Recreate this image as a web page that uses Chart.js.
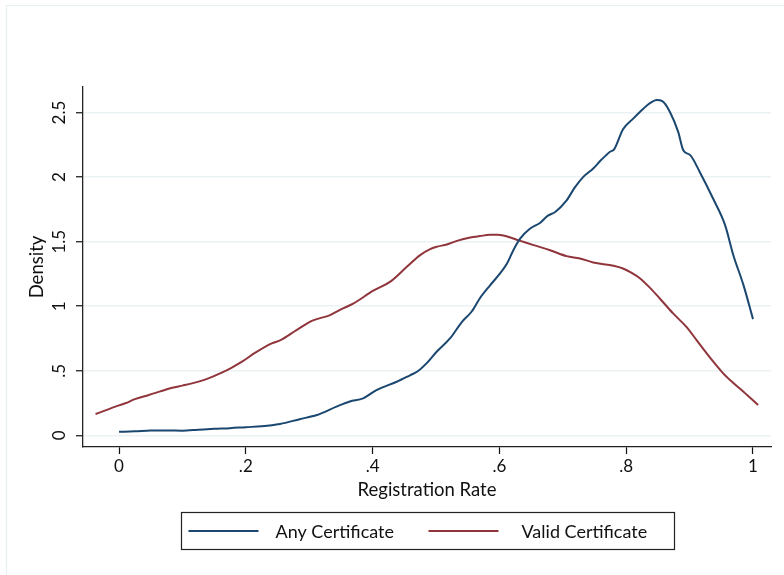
<!DOCTYPE html>
<html><head><meta charset="utf-8">
<script src="https://cdn.jsdelivr.net/npm/chart.js@4/dist/chart.umd.min.js"></script>
<style>html,body{margin:0;padding:0;background:#fff;}canvas{display:block;}</style>
</head><body>
<canvas id="c" width="784" height="575"></canvas>
<script>
// ---- data ----
const seriesNames = ["Any Certificate", "Valid Certificate"];
const anyX = [0,0.025,0.05,0.075,0.1,0.125,0.15,0.175,0.2,0.225,0.254,0.285,0.312,0.343,0.364,0.385,0.406,0.438,0.459,0.470,0.485,0.501,0.522,0.541,0.556,0.569,0.585,0.601,0.612,0.622,0.633,0.648,0.664,0.676,0.688,0.706,0.719,0.732,0.748,0.760,0.774,0.781,0.795,0.811,0.827,0.838,0.848,0.857,0.869,0.882,0.890,0.901,0.916,0.937,0.956,0.969,0.985,1.0];
const anyY = [0.027,0.031,0.037,0.038,0.036,0.043,0.050,0.055,0.063,0.070,0.088,0.125,0.157,0.222,0.262,0.286,0.350,0.415,0.465,0.492,0.557,0.647,0.750,0.879,0.957,1.060,1.160,1.254,1.330,1.434,1.525,1.600,1.645,1.700,1.730,1.820,1.920,2.000,2.067,2.130,2.195,2.215,2.370,2.453,2.530,2.575,2.597,2.588,2.505,2.350,2.208,2.170,2.040,1.834,1.628,1.395,1.163,0.900];
const validX = [-0.037,0,0.010,0.025,0.047,0.065,0.084,0.1,0.115,0.141,0.162,0.178,0.194,0.215,0.241,0.254,0.280,0.306,0.333,0.350,0.370,0.401,0.428,0.454,0.475,0.490,0.501,0.517,0.533,0.554,0.569,0.585,0.597,0.606,0.633,0.654,0.680,0.706,0.727,0.748,0.780,0.795,0.808,0.822,0.838,0.853,0.874,0.895,0.911,0.927,0.940,0.953,0.969,0.985,1.008];
const validY = [0.165,0.232,0.248,0.280,0.312,0.340,0.368,0.385,0.402,0.441,0.485,0.525,0.570,0.640,0.712,0.735,0.815,0.890,0.931,0.975,1.022,1.120,1.190,1.305,1.396,1.440,1.460,1.478,1.506,1.532,1.543,1.553,1.553,1.548,1.506,1.473,1.434,1.388,1.370,1.339,1.313,1.292,1.260,1.215,1.140,1.060,0.944,0.840,0.738,0.635,0.555,0.480,0.405,0.338,0.235];
const xTickValues = [0, 0.2, 0.4, 0.6, 0.8, 1];
const xTickLabels = ["0", ".2", ".4", ".6", ".8", "1"];
const yTickValues = [0, 0.5, 1, 1.5, 2, 2.5];
const yTickLabels = ["0", ".5", "1", "1.5", "2", "2.5"];
const xTitle = "Registration Rate";
const yTitle = "Density";

// ---- styling ----
const colors = ["#1a476f", "#90353b"];
const FAM = "Lato, 'Open Sans', sans-serif";
const TICKFONT = {family: FAM, size: 17};
const TITLEFONT = {family: FAM, size: 18.5};
const LEGFONT = {family: FAM, size: 18};

const toPts = (xs, ys) => xs.map((x, i) => ({x: x, y: ys[i]}));

const bgPlugin = {
  id: 'bg',
  beforeDraw(chart) {
    const ctx = chart.ctx;
    ctx.save();
    ctx.fillStyle = '#fff';
    ctx.fillRect(0, 0, chart.width, chart.height);
    ctx.strokeStyle = '#e6eff1';
    ctx.lineWidth = 1.2;
    ctx.strokeRect(6.5, 5.5, chart.width + 20, chart.height + 20);
    ctx.restore();
  }
};

const legendPlugin = {
  id: 'stataLegend',
  afterDraw(chart) {
    const ctx = chart.ctx;
    const ca = chart.chartArea;
    const cx = (ca.left + ca.right) / 2;
    const boxW = 493, boxH = 37, boxTop = 512;
    const left = Math.round(cx - boxW / 2) + 0.5;
    ctx.save();
    ctx.strokeStyle = '#222';
    ctx.lineWidth = 1.2;
    ctx.strokeRect(left, boxTop + 0.5, boxW, boxH);
    const midY = boxTop + boxH / 2 + 0.5;
    const items = [{x0: 7, x1: 77, tx: 94}, {x0: 247, x1: 317, tx: 340}];
    ctx.font = LEGFONT.size + "px " + LEGFONT.family;
    ctx.textBaseline = 'middle';
    ctx.textAlign = 'left';
    chart.data.datasets.forEach((ds, i) => {
      const it = items[i];
      ctx.strokeStyle = ds.borderColor;
      ctx.lineWidth = 2;
      ctx.beginPath();
      ctx.moveTo(left + it.x0, midY);
      ctx.lineTo(left + it.x1, midY);
      ctx.stroke();
      ctx.fillStyle = '#111';
      ctx.fillText(ds.label, left + it.tx, midY + 1);
    });
    ctx.restore();
  }
};

new Chart(document.getElementById('c'), {
  type: 'line',
  data: {
    datasets: [
      {label: seriesNames[0], data: toPts(anyX, anyY), borderColor: colors[0], borderWidth: 2, pointRadius: 0, fill: false, cubicInterpolationMode: 'monotone'},
      {label: seriesNames[1], data: toPts(validX, validY), borderColor: colors[1], borderWidth: 2, pointRadius: 0, fill: false, cubicInterpolationMode: 'monotone'}
    ]
  },
  options: {
    responsive: false,
    animation: false,
    devicePixelRatio: 1,
    layout: {padding: {top: 87, right: 13, left: 0, bottom: 0}},
    plugins: {legend: {display: false}, tooltip: {enabled: false}, title: {display: false}},
    scales: {
      x: {
        type: 'linear', min: -0.0568, max: 1.0284,
        afterBuildTicks: s => { s.ticks = xTickValues.map(v => ({value: v})); },
        afterFit: s => { s.height = 128; },
        ticks: {callback: (v, i) => xTickLabels[i], font: TICKFONT, color: '#111', padding: 2, maxRotation: 0, autoSkip: false},
        grid: {drawOnChartArea: false, drawTicks: true, tickLength: 7, tickColor: '#111', tickWidth: 1.2},
        border: {display: true, color: '#222', width: 1.3},
        title: {display: true, text: xTitle, font: TITLEFONT, color: '#111', padding: {top: 0, bottom: 74}}
      },
      y: {
        type: 'linear', min: -0.0906, max: 2.698,
        afterBuildTicks: s => { s.ticks = yTickValues.map(v => ({value: v})); },
        afterFit: s => { s.width = 83; },
        ticks: {callback: (v, i) => yTickLabels[i], font: TICKFONT, color: '#111', padding: 5, minRotation: 90, maxRotation: 90, crossAlign: 'center', autoSkip: false},
        grid: {drawOnChartArea: true, color: '#eaf2f3', lineWidth: 1.5, drawTicks: true, tickLength: 7, tickColor: '#111', tickWidth: 1.2},
        border: {display: true, color: '#222', width: 1.3},
        title: {display: true, text: yTitle, font: TITLEFONT, color: '#111', padding: {top: 26, bottom: 0}}
      }
    }
  },
  plugins: [bgPlugin, legendPlugin]
});
</script>
</body></html>
